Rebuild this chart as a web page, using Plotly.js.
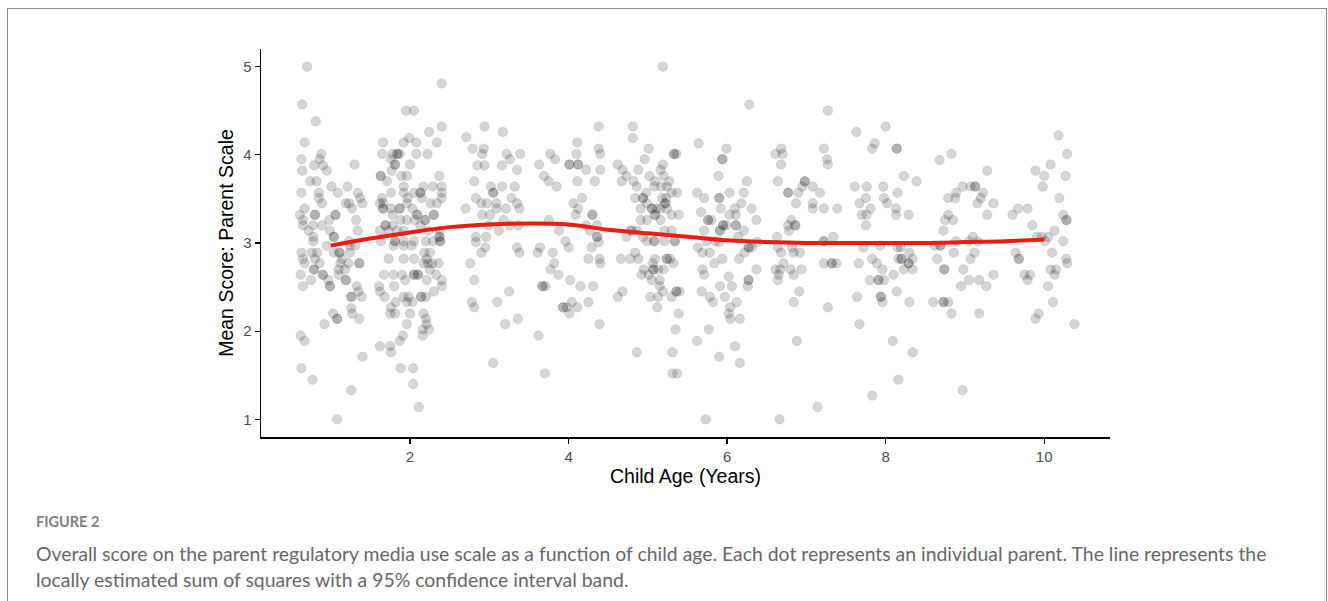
<!DOCTYPE html>
<html><head><meta charset="utf-8">
<script src="https://cdn.plot.ly/plotly-3.0.1.min.js"></script>
<style>
html,body{margin:0;padding:0;background:#fff;}
#chart{position:absolute;left:0;top:0;width:1328px;height:601px;}
#frame{position:absolute;left:7px;top:8px;width:1320px;height:700px;border:1.5px solid #8a8a8a;box-sizing:border-box;pointer-events:none;z-index:5;}
</style></head><body>
<div id="chart"></div>
<div id="frame"></div>
<script>
// Observed parents: [child age (years), mean parent-scale score], grouped by age band
const obsUnder1_5 = [[0.70,5.00],[0.64,4.57],[0.81,4.38],[0.67,4.14],[0.63,3.95],[0.64,3.82],[0.88,4.01],[0.86,3.95],[0.79,3.88],[0.90,3.88],[0.95,3.82],[0.74,3.70],[0.82,3.70],[0.63,3.57],[1.01,3.64],[1.09,3.57],[1.21,3.64],[1.30,3.89],[0.85,3.57],[0.85,3.51],[0.89,3.45],[0.67,3.39],[0.61,3.32],[0.80,3.32],[0.80,3.32],[1.06,3.32],[1.06,3.32],[0.65,3.26],[0.65,3.20],[0.78,3.20],[0.89,3.20],[0.72,3.14],[0.78,3.07],[0.99,3.14],[0.78,3.02],[1.04,3.07],[1.04,3.07],[0.98,3.26],[1.19,3.45],[1.23,3.45],[1.27,3.39],[1.34,3.57],[1.37,3.51],[1.40,3.45],[1.32,3.26],[1.34,3.14],[1.23,3.02],[0.95,2.97],
[0.63,2.89],[0.65,2.82],[0.67,2.77],[0.76,2.89],[0.83,2.89],[0.80,2.82],[0.86,2.77],[0.62,2.64],[0.65,2.51],[0.75,2.58],[0.79,2.70],[0.79,2.70],[0.90,2.64],[0.90,2.64],[0.99,2.51],[0.99,2.51],[0.97,2.58],[1.04,2.89],[1.11,2.89],[1.11,2.89],[1.14,2.82],[1.12,2.77],[1.22,2.77],[1.18,2.70],[1.10,2.70],[1.19,2.58],[1.19,2.58],[1.10,2.64],[1.24,2.89],[1.36,2.77],[1.36,2.77],[1.33,2.51],[1.35,2.45],[1.26,2.39],[1.26,2.39],[1.39,2.39],[1.03,2.20],[1.08,2.14],[1.08,2.14],[1.26,2.26],[1.27,2.20],[1.36,2.14],[0.92,2.08],[0.62,1.95],[0.67,1.89],[0.63,1.58],[0.77,1.45],[1.40,1.71],[1.26,1.33],[1.08,1.00],[1.24,2.97],[1.31,2.97]];

const obsAround2 = [[2.40,4.81],[1.95,4.50],[2.05,4.50],[1.66,4.14],[1.92,4.14],[1.99,4.19],[2.08,4.14],[2.24,4.26],[2.34,4.14],[2.40,4.32],[1.65,4.01],[1.78,4.01],[1.84,4.01],[1.84,4.01],[1.87,4.01],[2.08,4.01],[2.22,4.01],[1.81,3.89],[1.81,3.89],[1.76,3.95],[2.00,3.89],[1.77,3.82],[1.89,3.76],[1.96,3.76],[1.63,3.76],[1.63,3.76],[1.71,3.70],[2.37,3.76],[2.40,3.64],[2.29,3.64],[2.17,3.64],[2.05,3.57],[1.92,3.64],[1.92,3.57],[1.97,3.51],[2.13,3.57],[2.13,3.57],[2.15,3.51],[1.65,3.51],[1.76,3.57],[1.66,3.45],[1.62,3.45],[1.66,3.39],[1.66,3.39],[1.76,3.39],[1.87,3.39],[1.87,3.39],[2.03,3.39],[1.78,3.32],[2.09,3.32],[2.09,3.32],[2.19,3.26],[2.19,3.26],[2.30,3.32],[2.30,3.32],[1.69,3.20],[1.69,3.20],[1.78,3.20],[1.88,3.26],[1.96,3.26],[2.06,3.26],[2.13,3.20],[1.62,3.14],[1.73,3.14],[1.84,3.14],[1.92,3.14],[2.23,3.14],[2.37,3.07],[2.37,3.07],[2.38,3.14],[1.63,3.02],[1.81,3.02],[1.81,3.02],[1.92,3.02],[2.05,3.02],[2.20,3.02],[2.29,3.02],[2.38,3.02],[2.38,3.02],[2.70,3.39],[2.71,4.20],[2.40,3.57],[2.40,3.51],[2.34,3.45],[2.26,3.45],[1.96,3.45],[1.79,2.97],[1.92,2.97],[2.02,2.97],
[1.73,2.82],[1.92,2.82],[2.05,2.82],[2.18,2.89],[2.25,2.89],[2.21,2.82],[2.23,2.77],[2.28,2.77],[2.36,2.77],[2.17,2.77],[1.67,2.64],[1.79,2.64],[1.90,2.64],[1.94,2.58],[2.05,2.64],[2.05,2.64],[2.10,2.64],[2.10,2.64],[2.21,2.58],[2.25,2.70],[2.33,2.64],[2.40,2.58],[2.40,2.51],[1.62,2.45],[1.61,2.51],[1.68,2.39],[1.80,2.51],[1.82,2.33],[1.76,2.27],[1.75,2.20],[1.81,2.20],[1.92,2.39],[1.98,2.39],[1.96,2.33],[2.03,2.33],[2.14,2.39],[2.14,2.39],[2.20,2.39],[2.30,2.45],[2.00,2.20],[2.17,2.20],[2.20,2.14],[2.21,2.08],[2.24,2.02],[2.16,2.02],[2.16,1.95],[1.96,2.08],[1.91,1.95],[1.87,1.89],[1.62,1.83],[1.75,1.83],[1.76,1.76],[1.88,1.58],[2.04,1.58],[2.04,1.40],[2.11,1.14]];

const obsAge3to4_5 = [[2.94,4.32],[3.17,4.26],[2.79,4.07],[2.93,4.07],[2.91,4.01],[2.85,3.88],[2.94,3.88],[3.16,3.88],[3.22,4.01],[3.26,3.95],[3.39,4.01],[3.35,3.83],[2.81,3.70],[3.02,3.64],[3.05,3.57],[3.05,3.57],[3.16,3.64],[3.32,3.64],[2.83,3.51],[2.90,3.45],[2.97,3.45],[3.09,3.45],[3.28,3.51],[3.35,3.45],[3.38,3.39],[2.91,3.32],[3.01,3.32],[3.09,3.39],[3.21,3.39],[2.99,3.20],[3.18,3.26],[3.37,3.20],[3.12,3.14],[3.26,3.20],[2.96,3.07],[2.83,3.07],[3.63,3.89],[3.77,4.01],[3.83,3.95],[3.69,3.76],[3.75,3.70],[3.85,3.64],[3.75,3.26],[3.88,3.14],[4.01,3.89],[4.01,3.89],[4.12,3.89],[4.12,3.89],[4.10,4.01],[4.11,4.14],[4.22,3.83],[4.11,3.70],[4.33,3.70],[4.38,4.32],[4.38,4.07],[4.40,4.01],[4.40,3.83],[4.17,3.51],[4.06,3.45],[4.12,3.39],[4.09,3.32],[4.30,3.32],[4.30,3.32],[4.22,3.20],[4.36,3.20],[4.27,3.14],[4.36,3.07],[4.36,3.07],[3.96,3.02],[3.64,2.95],
[2.83,3.01],[2.95,2.95],[2.90,2.89],[2.76,2.77],[2.81,2.58],[2.78,2.33],[2.81,2.27],[3.35,2.95],[3.38,2.89],[3.25,2.45],[3.10,2.33],[3.20,2.08],[3.36,2.14],[3.05,1.64],[3.61,2.89],[3.80,2.89],[3.82,2.77],[3.77,2.70],[3.87,2.64],[3.67,2.51],[3.67,2.51],[3.71,2.51],[3.62,1.95],[3.70,1.52],[4.00,2.95],[4.02,2.58],[4.15,2.51],[4.31,2.51],[4.25,2.33],[4.29,2.95],[4.25,2.82],[4.39,2.82],[4.40,2.77],[4.38,3.01],[3.93,2.27],[3.93,2.27],[3.98,2.27],[4.01,2.20],[4.04,2.33],[4.11,2.27],[4.39,2.08]];

const obsAge4_5to5_5 = [[5.19,5.00],[4.81,4.32],[4.81,4.19],[5.01,4.07],[4.96,3.95],[4.88,3.83],[4.62,3.89],[4.68,3.83],[4.73,3.76],[4.82,3.70],[4.67,3.70],[5.19,3.89],[5.16,3.83],[5.20,3.76],[5.02,3.76],[5.09,3.70],[5.17,3.64],[5.27,3.70],[5.33,4.01],[5.33,4.01],[5.36,4.01],[4.86,3.64],[5.08,3.64],[5.24,3.64],[5.30,3.57],[5.37,3.57],[5.18,3.51],[5.22,3.45],[5.22,3.45],[5.23,3.51],[4.84,3.51],[4.94,3.51],[4.94,3.51],[4.98,3.57],[4.99,3.45],[5.05,3.39],[5.05,3.39],[5.11,3.39],[5.16,3.39],[5.24,3.39],[5.30,3.32],[5.39,3.32],[4.91,3.39],[4.91,3.26],[4.99,3.26],[5.16,3.26],[5.09,3.32],[5.09,3.32],[4.73,3.07],[4.79,3.14],[4.79,3.14],[4.86,3.14],[4.94,3.07],[4.99,3.02],[5.08,3.02],[5.08,3.02],[5.21,3.02],[5.21,3.14],[5.30,3.14],[5.34,3.02],[5.34,3.02],
[4.66,2.82],[4.78,2.82],[4.84,2.89],[4.88,2.82],[4.68,2.45],[4.62,2.39],[4.86,1.76],[4.95,2.70],[4.92,2.64],[5.01,2.64],[5.05,2.58],[5.06,2.77],[5.07,2.70],[5.07,2.70],[5.13,2.70],[5.20,2.70],[5.09,2.82],[5.24,2.82],[5.24,2.82],[5.28,2.82],[5.32,2.77],[5.15,2.58],[5.15,2.51],[5.19,2.45],[5.03,2.39],[5.13,2.39],[5.12,2.27],[5.30,2.39],[5.36,2.45],[5.36,2.45],[5.40,2.45],[5.39,2.20],[5.35,2.02],[5.31,1.76],[5.31,1.52],[5.37,1.52]];

const obsAge5_5to7_5 = [[6.28,4.57],[5.64,4.13],[5.99,4.07],[5.94,3.95],[5.94,3.95],[5.89,3.76],[5.62,3.57],[5.71,3.51],[5.90,3.51],[5.90,3.51],[6.03,3.57],[6.21,3.57],[6.25,3.70],[5.67,3.35],[5.76,3.26],[5.76,3.26],[5.80,3.26],[5.92,3.39],[6.03,3.32],[6.10,3.39],[6.18,3.45],[6.11,3.32],[6.31,3.39],[5.71,3.14],[5.95,3.20],[5.95,3.20],[5.91,3.14],[5.91,3.14],[5.99,3.20],[6.11,3.20],[6.11,3.20],[6.21,3.14],[6.37,3.26],[5.74,3.02],[5.85,3.02],[6.14,3.07],[6.61,4.01],[6.68,4.07],[6.70,4.01],[6.68,3.89],[6.64,3.70],[6.77,3.57],[6.77,3.57],[6.90,3.57],[6.98,3.70],[6.98,3.70],[6.95,3.64],[7.08,3.64],[7.17,3.57],[6.87,3.45],[7.08,3.45],[7.08,3.39],[7.22,3.39],[7.39,3.39],[6.81,3.26],[6.77,3.20],[6.86,3.20],[6.86,3.20],[6.78,3.14],[6.63,3.07],[7.34,3.07],[7.22,3.02],[7.22,3.02],[7.27,4.50],[7.22,4.07],[7.26,3.95],[7.27,3.89],
[5.63,2.95],[5.69,2.89],[5.78,2.89],[5.90,3.01],[5.69,2.70],[5.71,2.64],[5.84,2.77],[5.94,2.82],[5.68,2.45],[5.78,2.39],[5.82,2.33],[5.97,2.39],[5.91,2.51],[6.02,2.62],[6.06,2.51],[6.04,2.27],[6.02,2.20],[6.04,2.14],[6.12,2.33],[6.16,2.14],[5.77,2.02],[5.62,1.89],[5.90,1.71],[6.10,1.83],[6.16,1.64],[5.73,1.00],[6.66,1.00],[6.15,2.82],[6.22,2.89],[6.27,2.95],[6.27,2.95],[6.31,2.95],[6.38,3.01],[6.37,2.70],[6.27,2.58],[6.27,2.58],[6.26,2.51],[6.64,2.95],[6.68,2.89],[6.84,2.89],[6.92,2.89],[6.82,2.95],[6.71,2.77],[6.61,2.70],[6.67,2.70],[6.80,2.70],[6.94,2.70],[6.84,2.64],[6.64,2.58],[6.65,2.64],[6.91,2.45],[6.84,2.33],[6.88,1.89],[7.22,2.77],[7.32,2.77],[7.32,2.77],[7.38,2.77],[7.27,2.27],[7.14,1.14]];

const obsAge7_5to10_5 = [[7.63,4.26],[8.00,4.32],[7.83,4.07],[7.86,4.13],[8.14,4.07],[8.14,4.07],[7.61,3.64],[7.76,3.64],[7.97,3.64],[7.75,3.51],[7.67,3.45],[7.70,3.32],[7.76,3.32],[7.81,3.39],[7.98,3.51],[8.02,3.45],[8.15,3.57],[8.13,3.32],[7.75,3.20],[7.72,2.95],[7.93,2.97],
[7.66,2.77],[7.64,2.39],[7.67,2.08],[7.83,2.82],[7.89,2.77],[7.96,2.70],[7.80,2.58],[7.91,2.58],[7.91,2.58],[7.98,2.58],[7.94,2.39],[7.94,2.39],[7.96,2.33],[8.10,2.64],[8.14,2.45],[8.16,2.82],[8.09,1.89],[7.83,1.27],[8.16,1.45],
[8.68,3.94],[8.83,4.01],[8.23,3.76],[8.39,3.70],[8.13,3.39],[8.29,3.32],[8.79,3.51],[8.88,3.51],[8.89,3.57],[8.97,3.64],[9.07,3.64],[9.13,3.64],[9.13,3.64],[9.23,3.57],[9.20,3.51],[9.16,3.45],[9.36,3.45],[9.28,3.82],[8.79,3.32],[8.75,3.26],[8.85,3.26],[8.73,3.14],[9.28,3.32],[9.10,3.07],[9.16,3.02],[9.05,3.02],[8.89,3.02],[8.69,2.97],[8.69,2.97],[8.62,2.97],[9.60,3.32],[9.67,3.39],[9.79,3.39],[9.85,3.20],[9.89,3.82],[9.98,3.64],[10.00,3.76],[10.08,3.89],[10.18,4.22],[10.29,4.01],[10.27,3.76],[10.19,3.51],[10.24,3.32],[10.28,3.26],[10.28,3.26],[10.13,3.14],[10.05,3.07],[9.91,3.07],[9.97,3.07],[10.01,3.02],[10.24,3.02],
[8.15,2.95],[8.19,2.95],[8.20,2.82],[8.20,2.82],[8.29,2.77],[8.29,2.77],[8.30,2.89],[8.34,2.82],[8.23,2.70],[8.34,2.70],[8.30,2.33],[8.34,1.76],[8.65,2.82],[8.74,2.70],[8.74,2.70],[8.86,2.89],[8.60,2.33],[8.73,2.33],[8.73,2.33],[8.79,2.33],[8.83,2.20],[9.07,2.82],[9.12,2.89],[8.98,2.70],[9.05,2.58],[8.95,2.51],[9.18,2.58],[9.27,2.51],[9.36,2.64],[9.18,2.20],[8.97,1.33],[9.64,2.89],[9.68,2.82],[9.68,2.82],[9.75,2.64],[9.82,2.64],[9.79,2.58],[9.93,2.20],[9.89,2.14],[10.10,2.89],[10.08,2.70],[10.15,2.70],[10.13,2.64],[10.05,2.51],[10.11,2.33],[10.28,2.82],[10.29,2.77],[10.38,2.08]];

// LOESS fit
const loessAge   = [1.0, 1.5, 2.0, 2.5, 3.0, 3.5, 4.0, 4.5, 5.0, 5.5, 6.0, 6.5, 7.0, 7.5, 8.0, 8.5, 9.0, 9.5, 10.0];
const loessScore = [2.97,3.05,3.12,3.18,3.21,3.22,3.21,3.15,3.11,3.07,3.03,3.01,3.00,3.00,3.00,3.00,3.01,3.02,3.04];

const xTicks = [2, 4, 6, 8, 10];
const yTicks = [1, 2, 3, 4, 5];

const captionHead = 'FIGURE 2';
const captionLine1 = 'Overall score on the parent regulatory media use scale as a function of child age. Each dot represents an individual parent. The line represents the';
const captionLine2 = 'locally estimated sum of squares with a 95% confidence interval band.';

const allObs = [].concat(obsUnder1_5, obsAround2, obsAge3to4_5, obsAge4_5to5_5, obsAge5_5to7_5, obsAge7_5to10_5);

const scatter = {
  type: 'scatter', mode: 'markers',
  x: allObs.map(p => p[0]), y: allObs.map(p => p[1]),
  marker: {size: 9.5, color: 'rgba(0,0,0,0.165)', line: {width: 0.8, color: 'rgba(0,0,0,0.12)'}},
  hoverinfo: 'x+y', showlegend: false
};
const fit = {
  type: 'scatter', mode: 'lines', x: loessAge, y: loessScore,
  line: {color: '#ee1c0e', width: 4, shape: 'spline', smoothing: 1},
  showlegend: false
};

const axisFont = {family: 'Liberation Sans, Arial, sans-serif', size: 15, color: '#4d4d4d'};
const titleFont = {family: 'Liberation Sans, Arial, sans-serif', size: 19.5, color: '#000'};
const capFont = {family: 'Lato, Open Sans, sans-serif', size: 19.4, color: '#666666'};

const layout = {
  width: 1328, height: 601,
  margin: {l: 261, r: 218, t: 49, b: 164, pad: 0},
  paper_bgcolor: '#fff', plot_bgcolor: '#fff',
  xaxis: {
    range: [0.12, 10.83], tickvals: xTicks, ticktext: xTicks.map(String),
    showgrid: false, zeroline: false, showline: true, linecolor: '#000', linewidth: 1.5,
    ticks: 'outside', ticklen: 5, tickwidth: 1.3, tickcolor: '#000',
    tickfont: axisFont,
    title: {text: 'Child Age (Years)', font: titleFont, standoff: 6}
  },
  yaxis: {
    range: [0.8, 5.2], tickvals: yTicks, ticktext: yTicks.map(String),
    showgrid: false, zeroline: false, showline: true, linecolor: '#000', linewidth: 1.5,
    ticks: 'outside', ticklen: 5, tickwidth: 1.3, tickcolor: '#000',
    tickfont: axisFont,
    title: {text: 'Mean Score: Parent Scale', font: titleFont, standoff: 4}
  },
  annotations: [
    {xref: 'paper', yref: 'paper', x: -0.2673, y: -0.2183, xanchor: 'left', yanchor: 'middle', showarrow: false,
     text: captionHead, font: {family: 'Lato, Open Sans, sans-serif', size: 14.5, color: '#808080', weight: 'bold'}},
    {xref: 'paper', yref: 'paper', x: -0.2673, y: -0.2990, xanchor: 'left', yanchor: 'middle', showarrow: false,
     text: captionLine1, font: capFont},
    {xref: 'paper', yref: 'paper', x: -0.2673, y: -0.3673, xanchor: 'left', yanchor: 'middle', showarrow: false,
     text: captionLine2, font: capFont}
  ]
};

Plotly.newPlot('chart', [scatter, fit], layout, {staticPlot: true, displayModeBar: false});
</script></body></html>
